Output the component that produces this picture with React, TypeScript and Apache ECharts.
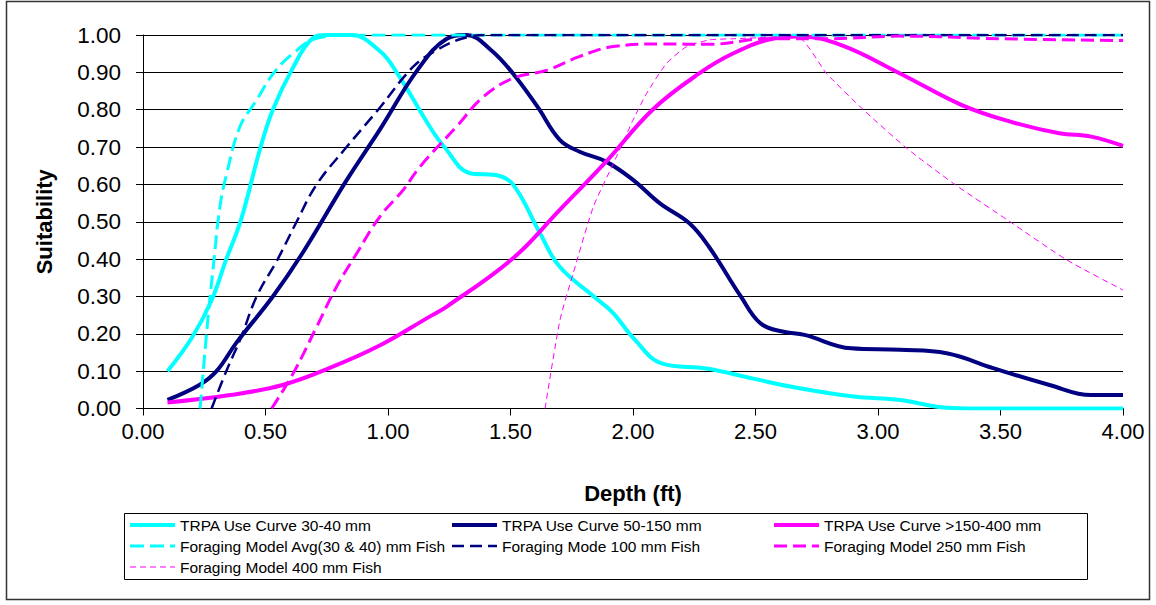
import React, { useEffect, useRef } from "react";
import * as echarts from "echarts";

const FONT = "'Liberation Sans', Arial, sans-serif";

const seriesNames = [
  "TRPA Use Curve 30-40 mm",
  "TRPA Use Curve 50-150 mm",
  "TRPA Use Curve >150-400 mm",
  "Foraging Model Avg(30 & 40) mm Fish",
  "Foraging Mode 100 mm Fish",
  "Foraging Model 250 mm Fish",
  "Foraging Model 400 mm Fish",
];

const xTicks = [0, 0.5, 1, 1.5, 2, 2.5, 3, 3.5, 4];

const trpa3040 = [
  [0.1, 0.1], [0.2, 0.19], [0.28, 0.29], [0.34, 0.4], [0.4, 0.505], [0.48, 0.7], [0.53, 0.8],
  [0.61, 0.91], [0.69, 0.99], [0.75, 1.0], [0.85, 1.0], [0.97, 0.955], [1.04, 0.895],
  [1.17, 0.755], [1.23, 0.7], [1.335, 0.63], [1.44, 0.625], [1.51, 0.6], [1.62, 0.47],
  [1.7, 0.38], [1.84, 0.3], [1.92, 0.255], [2.0, 0.19], [2.12, 0.12], [2.3, 0.107],
  [2.49, 0.08], [2.68, 0.054], [2.9, 0.032], [3.09, 0.023], [3.28, 0.002], [3.4, 0], [4.0, 0],
];

const trpa50150 = [
  [0.1, 0.023], [0.23, 0.063], [0.3, 0.1], [0.38, 0.175], [0.53, 0.3], [0.65, 0.415],
  [0.83, 0.61], [0.97, 0.75], [1.12, 0.906], [1.24, 0.99], [1.32, 1.0], [1.42, 0.96],
  [1.51, 0.897], [1.61, 0.808], [1.7, 0.72], [1.78, 0.688], [1.89, 0.661], [2.0, 0.612],
  [2.11, 0.549], [2.23, 0.496], [2.31, 0.433], [2.44, 0.3], [2.52, 0.228], [2.61, 0.206],
  [2.7, 0.197], [2.89, 0.161], [3.09, 0.157], [3.28, 0.148], [3.47, 0.108], [3.7, 0.063],
  [3.87, 0.036], [4.0, 0.036],
];

const trpa150400 = [
  [0.1, 0.016], [0.355, 0.036], [0.57, 0.063], [0.76, 0.108], [0.97, 0.17], [1.17, 0.246],
  [1.24, 0.273], [1.51, 0.402], [1.7, 0.531], [1.89, 0.661], [2.08, 0.8], [2.27, 0.897],
  [2.41, 0.951], [2.57, 0.99], [2.68, 0.996], [2.85, 0.973], [3.09, 0.897], [3.34, 0.813],
  [3.54, 0.768], [3.74, 0.737], [3.87, 0.728], [4.0, 0.703],
];

const forAvg3040 = [
  [0.233, 0], [0.267, 0.255], [0.287, 0.38], [0.314, 0.54], [0.342, 0.63], [0.396, 0.755],
  [0.464, 0.826], [0.532, 0.897], [0.613, 0.951], [0.709, 0.991], [0.85, 1.0], [4.0, 1.0],
];

const forMode100 = [
  [0.28, 0], [0.34, 0.1], [0.4, 0.19], [0.464, 0.3], [0.55, 0.4], [0.627, 0.5], [0.709, 0.6],
  [0.831, 0.7], [0.96, 0.8], [1.103, 0.915], [1.2, 0.96], [1.3, 0.99], [1.4, 1.0], [4.0, 1.0],
];

const for250 = [
  [0.525, 0], [0.613, 0.094], [0.709, 0.219], [0.79, 0.326], [0.872, 0.415], [0.967, 0.514],
  [1.062, 0.585], [1.13, 0.647], [1.28, 0.755], [1.39, 0.835], [1.51, 0.884], [1.65, 0.906],
  [1.78, 0.942], [1.92, 0.969], [2.12, 0.976], [2.31, 0.975], [2.55, 0.99], [2.8, 0.99],
  [3.09, 0.997], [3.5, 0.99], [4.0, 0.985],
];

const for400 = [
  [1.641, 0], [1.702, 0.237], [1.756, 0.362], [1.838, 0.54], [1.92, 0.656], [2.0, 0.772],
  [2.056, 0.844], [2.137, 0.924], [2.219, 0.969], [2.314, 0.987], [2.41, 0.99], [2.668, 0.996],
  [2.79, 0.897], [2.94, 0.8], [3.117, 0.697], [3.307, 0.603], [3.539, 0.5], [3.77, 0.398],
  [4.0, 0.317],
];

const CYAN = "#00FFFF";
const NAVY = "#000080";
const MAGENTA = "#FF00FF";

export default function App() {
  const ref = useRef<HTMLDivElement>(null);
  useEffect(() => {
    if (!ref.current) return;
    const chart = echarts.init(ref.current, null, { renderer: "svg" });
    const mk = (name: string, data: number[][], color: string, width: number, type: any, smooth = 0.4) => ({
      name,
      type: "line",
      data,
      smooth,
      symbol: "none",
      clip: true,
      color,
      lineStyle: { color, width, type },
    });
    const legendCommon = {
      orient: "vertical",
      itemWidth: 45,
      itemHeight: 14,
      itemGap: 5,
      padding: 0,
      selectedMode: false,
      itemStyle: { opacity: 0 },
      lineStyle: { width: "inherit" },
      textStyle: { fontSize: 15.5, color: "#000", fontFamily: FONT },
    };
    chart.setOption({
      animation: false,
      textStyle: { fontFamily: FONT },
      grid: { left: 143, right: 33, top: 35, bottom: 196.5, containLabel: false },
      xAxis: {
        type: "value",
        min: xTicks[0],
        max: xTicks[xTicks.length - 1],
        interval: 0.5,
        name: "Depth (ft)",
        nameLocation: "middle",
        nameGap: 74,
        nameTextStyle: { fontSize: 22, fontWeight: "bold", color: "#000", fontFamily: FONT },
        axisLine: { show: true, lineStyle: { color: "#000", width: 1 } },
        axisTick: { show: true, inside: false, length: 7, lineStyle: { color: "#000" } },
        axisLabel: { fontSize: 22, color: "#000", margin: 12, formatter: (v: number) => v.toFixed(2) },
        splitLine: { show: false },
      },
      yAxis: {
        type: "value",
        min: 0,
        max: 1,
        interval: 0.1,
        name: "Suitability",
        nameLocation: "middle",
        nameGap: 88,
        nameTextStyle: { fontSize: 22, fontWeight: "bold", color: "#000", fontFamily: FONT },
        axisLine: { show: true, lineStyle: { color: "#000", width: 1 } },
        axisTick: { show: true, inside: false, length: 7, lineStyle: { color: "#000" } },
        axisLabel: { fontSize: 22.5, color: "#000", margin: 22, formatter: (v: number) => v.toFixed(2) },
        splitLine: { show: true, lineStyle: { color: "#000", width: 1 } },
      },
      legend: [
        { ...legendCommon, left: 128, top: 517, data: [seriesNames[0], seriesNames[3], seriesNames[6]] },
        { ...legendCommon, left: 450, top: 517, data: [seriesNames[1], seriesNames[4]] },
        { ...legendCommon, left: 772, top: 517, data: [seriesNames[2], seriesNames[5]] },
      ],
      graphic: [
        {
          type: "rect",
          shape: { x: 6.5, y: 1.5, width: 1143, height: 598 },
          style: { fill: "none", stroke: "#333", lineWidth: 1.5 },
          silent: true,
        },
        {
          type: "rect",
          shape: { x: 124.5, y: 513.5, width: 963, height: 66 },
          style: { fill: "none", stroke: "#000", lineWidth: 1 },
          silent: true,
        },
      ],
      series: [
        mk(seriesNames[0], trpa3040, CYAN, 4, "solid"),
        mk(seriesNames[1], trpa50150, NAVY, 4, "solid"),
        mk(seriesNames[2], trpa150400, MAGENTA, 4, "solid"),
        mk(seriesNames[3], forAvg3040, CYAN, 3, [14, 6]),
        mk(seriesNames[4], forMode100, NAVY, 2.5, [12, 6]),
        mk(seriesNames[5], for250, MAGENTA, 3, [13, 6]),
        mk(seriesNames[6], for400, MAGENTA, 1, [6, 4], 0.2),
      ],
    });
    return () => chart.dispose();
  }, []);
  return (
    <div
      ref={ref}
      style={{ position: "fixed", left: 0, top: 0, width: 1156, height: 605, background: "#fff" }}
    />
  );
}
